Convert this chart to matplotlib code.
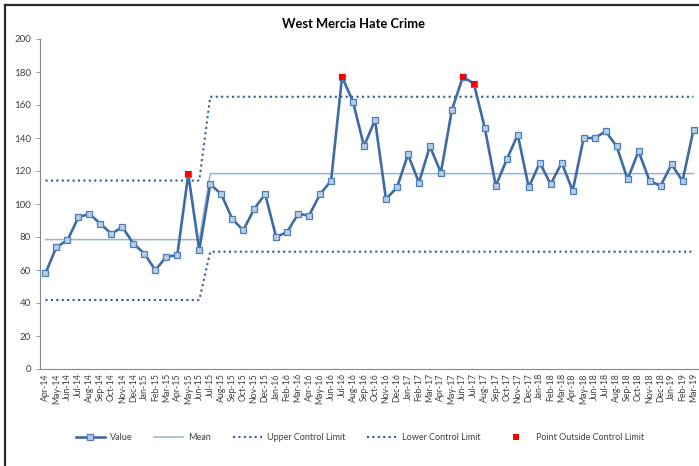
import matplotlib
matplotlib.use('Agg')
import matplotlib.pyplot as plt
from matplotlib.lines import Line2D

plt.rcParams['font.family'] = ['Lato', 'DejaVu Sans']

months = ['Apr-14', 'May-14', 'Jun-14', 'Jul-14', 'Aug-14', 'Sep-14', 'Oct-14', 'Nov-14', 'Dec-14',
          'Jan-15', 'Feb-15', 'Mar-15', 'Apr-15', 'May-15', 'Jun-15', 'Jul-15', 'Aug-15', 'Sep-15',
          'Oct-15', 'Nov-15', 'Dec-15', 'Jan-16', 'Feb-16', 'Mar-16', 'Apr-16', 'May-16', 'Jun-16',
          'Jul-16', 'Aug-16', 'Sep-16', 'Oct-16', 'Nov-16', 'Dec-16', 'Jan-17', 'Feb-17', 'Mar-17',
          'Apr-17', 'May-17', 'Jun-17', 'Jul-17', 'Aug-17', 'Sep-17', 'Oct-17', 'Nov-17', 'Dec-17',
          'Jan-18', 'Feb-18', 'Mar-18', 'Apr-18', 'May-18', 'Jun-18', 'Jul-18', 'Aug-18', 'Sep-18',
          'Oct-18', 'Nov-18', 'Dec-18', 'Jan-19', 'Feb-19', 'Mar-19']

values = [58, 74, 78, 92, 94, 88, 82, 86, 76,
          70, 60, 68, 69, 118, 72, 112, 106, 91,
          84, 97, 106, 80, 83, 94, 93, 106, 114,
          177, 162, 135, 151, 103, 110, 130, 113, 135,
          119, 157, 177, 173, 146, 111, 127, 142, 110,
          125, 112, 125, 108, 140, 140, 144, 135, 115,
          132, 114, 111, 124, 114, 145]

# control chart levels for the two phases (15 months, then 45 months)
mean = [78.4] * 15 + [118.4] * 45
ucl = [114.2] * 15 + [165.0] * 45
lcl = [41.8] * 15 + [71.1] * 45

outside_months = ['May-15', 'Jul-16', 'Jun-17', 'Jul-17']
outside_values = [118, 177, 177, 173]

fig = plt.figure(figsize=(6.99, 4.66), dpi=100)
ax = fig.add_axes([40 / 699, 1 - 369 / 466, 659 / 699, 330 / 466])

x = list(range(len(months)))
ax.plot(x, values, color='#3e6ba6', lw=1.9, marker='s', ms=4.5,
        mfc='#b9cde5', mec='#4a7ebb', mew=0.9, label='Value', zorder=4)
ax.plot(x, mean, color='#95b3d7', lw=1.1, label='Mean', zorder=2)
ax.plot(x, ucl, color='#2f5c98', lw=1.5, ls=(0, (1, 1.6)), label='Upper Control Limit', zorder=3)
ax.plot(x, lcl, color='#2f5c98', lw=1.5, ls=(0, (1, 1.6)), label='Lower Control Limit', zorder=3)
ox = [months.index(m) for m in outside_months]
ax.plot(ox, outside_values, ls='none', marker='s', ms=4.5, mfc='#ff0000', mec='#ff0000',
        mew=0, label='Point Outside Control Limit', zorder=5)

ax.set_xlim(-0.5, len(months) - 0.5)
ax.set_ylim(0, 200)
ax.set_yticks(range(0, 201, 20))
ax.set_xticks(x)
ax.set_xticklabels(months, rotation=90, fontsize=6.3, color='#404040')
ax.tick_params(axis='y', labelsize=7, colors='#404040', length=3, width=0.6, color='#868686')
ax.tick_params(axis='x', length=0, pad=3)
for s in ['top', 'right']:
    ax.spines[s].set_visible(False)
for s in ['left', 'bottom']:
    ax.spines[s].set_color('#868686')
    ax.spines[s].set_linewidth(0.8)

fig.text(354 / 699, 1 - 24 / 466, 'West Mercia Hate Crime', ha='center', va='center',
         fontsize=9.3, fontweight='bold', color='#000000')

fig.legend(loc='center', bbox_to_anchor=(0.515, 1 - 438 / 466), ncol=5, frameon=False,
           fontsize=6.5, handlelength=3.2, columnspacing=2.4, handletextpad=0.6,
           labelcolor='#404040')

# chart frame (left and top edges visible)
fig.add_artist(Line2D([5 / 699, 5 / 699], [0, 1 - 5 / 466], color='#2b2b2b', lw=1.6,
                      transform=fig.transFigure))
fig.add_artist(Line2D([5 / 699, 1], [1 - 5 / 466, 1 - 5 / 466], color='#2b2b2b', lw=1.6,
                      transform=fig.transFigure))

fig.savefig('out.png', dpi=100)
